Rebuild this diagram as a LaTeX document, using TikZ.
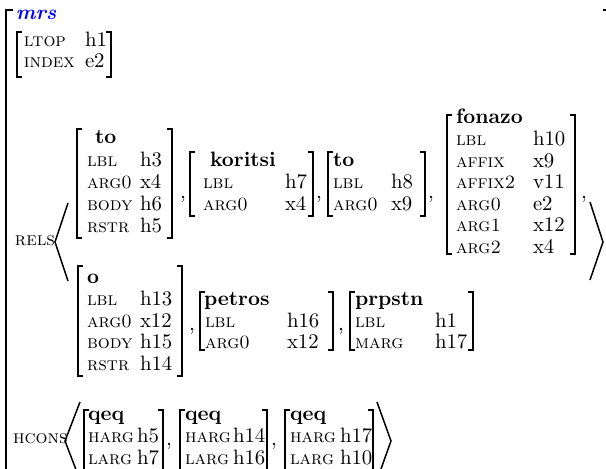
\documentclass[tikz,border=0pt]{standalone}
\usepackage{xcolor}
\newcommand{\scx}[1]{{\fontsize{9.4}{11}\selectfont\textsc{#1}}}
\newcommand{\bx}[4]{%
  \draw[brk] ({#1+5},#2) -- (#1,#2) -- (#1,#4) -- ({#1+5},#4);
  \draw[brk] ({#3-5},#2) -- (#3,#2) -- (#3,#4) -- ({#3-5},#4);}
\newcommand{\av}[6]{%
  \node[txt] (#1a) at (#2,#4) {\scx{#5}};
  \node[txt] (#1v) at (#3,#4) {#6};}
\begin{document}
\begin{tikzpicture}[x=0.5pt,y=-0.5pt,font=\fontsize{10.4}{12.5}\selectfont,
  txt/.style={anchor=base west,inner sep=0pt,outer sep=0pt},
  brk/.style={line width=0.75pt},
  outer/.style={line width=1.2pt}]
\useasboundingbox (0,0) rectangle (606,469);
% outer bracket
\draw[outer] (13,10) -- (6,10) -- (6,480);
\draw[outer] (603,10) -- (612,10);
\node[txt,text=blue] (mrs) at (16,20) {\textbf{\textit{mrs}}};
% LTOP / INDEX
\bx{17}{32}{111}{77}
\av{ltop}{24}{85}{47}{ltop}{h1}
\av{index}{24}{85}{68}{index}{e2}
% RELS
\node[txt] (rels) at (15,246) {\scx{rels}};
\draw[brk] (68,203) -- (55,242) -- (68,281);
\draw[brk] (590,202) -- (603,242) -- (590,280);
% box to
\bx{77}{129}{172}{238}
\node[txt] (toA) at (95,144) {\textbf{to}};
\av{toAlbl}{87}{140}{166.5}{lbl}{h3}
\av{toAarg}{87}{140}{189}{arg0}{x4}
\av{toAbody}{87}{140}{211}{body}{h6}
\av{toArstr}{87}{140}{233}{rstr}{h5}
\node[txt] (c1) at (180,199) {,};
% koritsi
\bx{190}{152}{313}{216}
\node[txt] (kor) at (210,167) {\textbf{koritsi}};
\av{korlbl}{203}{285}{189}{lbl}{h7}
\av{korarg}{203}{285}{211}{arg0}{x4}
\node[txt] (c2) at (316,199) {,};
% to 2
\bx{328}{152}{425}{216}
\node[txt] (toB) at (333,167) {\textbf{to}};
\av{toBlbl}{333}{391}{189}{lbl}{h8}
\av{toBarg}{333}{391}{211}{arg0}{x9}
\node[txt] (c3) at (428,199) {,};
% fonazo
\bx{447}{115}{575}{254}
\node[txt] (fon) at (456,124) {\textbf{fonazo}};
\av{fonlbl}{456}{533}{145.5}{lbl}{h10}
\av{fonaf}{456}{533}{167.5}{affix}{x9}
\av{fonafb}{456}{533}{189}{affix2}{v11}
\av{fonarga}{456}{533}{210.5}{arg0}{e2}
\av{fonargb}{456}{533}{232}{arg1}{x12}
\av{fonargc}{456}{533}{253.5}{arg2}{x4}
\node[txt] (c4) at (581,199) {,};
% box o
\bx{78}{266}{182}{376}
\node[txt] (oo) at (87,284) {\textbf{o}};
\av{olbl}{87}{140}{306}{lbl}{h13}
\av{oarg}{87}{140}{328}{arg0}{x12}
\av{obody}{87}{140}{349}{body}{h15}
\av{orstr}{87}{140}{371}{rstr}{h14}
\node[txt] (c5) at (189,331) {,};
% petros
\bx{200}{292}{333}{350}
\node[txt] (pet) at (204,306) {\textbf{petros}};
\av{petlbl}{205}{287}{328}{lbl}{h16}
\av{petarg}{205}{287}{349}{arg0}{x12}
\node[txt] (c6) at (338,331) {,};
% prpstn
\bx{350}{292}{473}{350}
\node[txt] (prp) at (355,306) {\textbf{prpstn}};
\av{prplbl}{355}{435}{328}{lbl}{h1}
\av{prpmarg}{355}{435}{349}{marg}{h17}
% HCONS
\node[txt] (hcons) at (13,444) {\scx{hcons}};
\draw[brk] (80,402) -- (65,441) -- (80,480);
\draw[brk] (377,402) -- (391,441) -- (377,480);
\bx{84}{410}{163}{474}
\node[txt] (qa) at (88,421) {\textbf{qeq}};
\av{qah}{88}{137}{443}{harg}{h5}
\av{qal}{88}{137}{465}{larg}{h7}
\node[txt] (c7) at (166,446) {,};
\bx{180}{410}{267}{474}
\node[txt] (qb) at (185,421) {\textbf{qeq}};
\av{qbh}{185}{233}{443}{harg}{h14}
\av{qbl}{185}{233}{465}{larg}{h16}
\node[txt] (c8) at (271,446) {,};
\bx{285}{410}{373}{474}
\node[txt] (qc) at (290,421) {\textbf{qeq}};
\av{qch}{290}{340}{443}{harg}{h17}
\av{qcl}{290}{340}{465}{larg}{h10}
\end{tikzpicture}
\end{document}
